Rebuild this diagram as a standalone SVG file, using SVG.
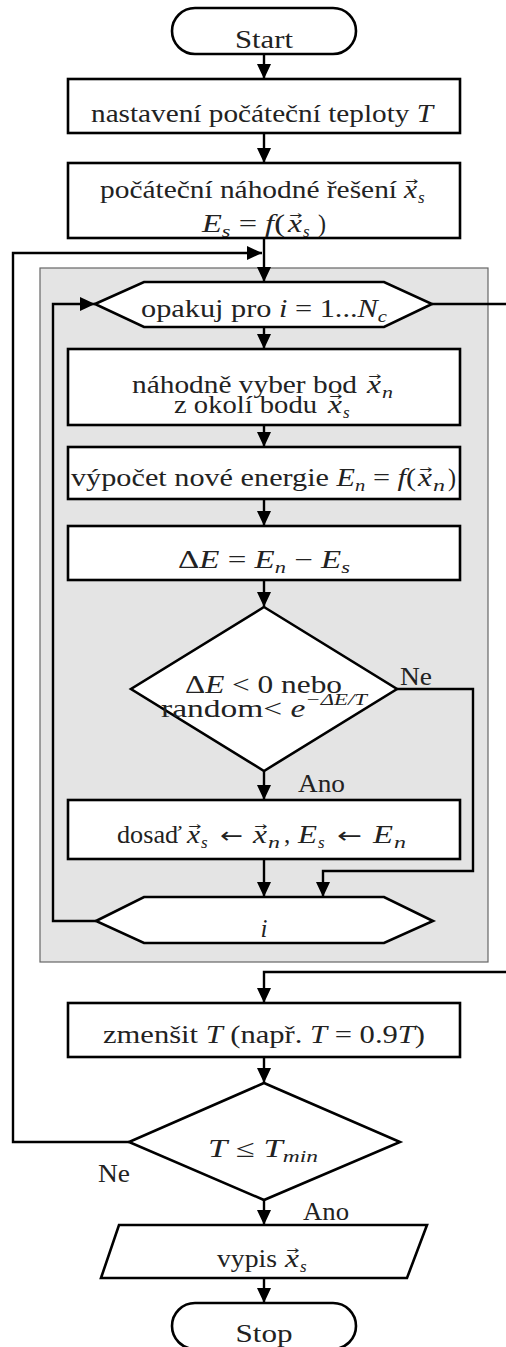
<svg xmlns="http://www.w3.org/2000/svg" width="506" height="1347" viewBox="0 0 506 1347">
<style>
.n{fill:#fff;stroke:#000;stroke-width:2.6}
.c{fill:none;stroke:#000;stroke-width:2.4}
text{font-family:"Liberation Serif","DejaVu Serif",serif;font-size:25px;fill:#222;text-anchor:middle}
.a{text-anchor:start}
.i{font-style:italic}
.s{font-size:17px;font-style:italic}
.l{text-anchor:start}
.va{font-family:"DejaVu Sans",sans-serif;font-size:11px;text-anchor:start}
.la{font-family:"DejaVu Sans",sans-serif;font-size:22px;text-anchor:start}
</style>
<defs>
<marker id="ah" markerUnits="userSpaceOnUse" markerWidth="16" markerHeight="15" refX="15" refY="7" orient="auto">
<path d="M0,0 L15,7 L0,14 z" fill="#000"/>
</marker>
</defs>
<rect id="loopbox" x="40" y="268" width="448" height="694" fill="#e4e4e4" stroke="#666" stroke-width="1.2"/>
<g id="connectors">
<path class="c" d="M264,54 V79" marker-end="url(#ah)"/>
<path class="c" d="M264,133 V163" marker-end="url(#ah)"/>
<path class="c" d="M264,238 V282" marker-end="url(#ah)"/>
<path class="c" d="M129,1142 H13 V253 H262" marker-end="url(#ah)"/>
<path class="c" d="M264,327 V349" marker-end="url(#ah)"/>
<path class="c" d="M264,425 V447" marker-end="url(#ah)"/>
<path class="c" d="M264,499 V526" marker-end="url(#ah)"/>
<path class="c" d="M264,580 V607" marker-end="url(#ah)"/>
<path class="c" d="M264,771 V800" marker-end="url(#ah)"/>
<path class="c" d="M397,689 H473 V871 H323 V897" marker-end="url(#ah)"/>
<path class="c" d="M264,859 V897" marker-end="url(#ah)"/>
<path class="c" d="M96,921 H53 V304 H95" marker-end="url(#ah)"/>
<path class="c" d="M432,304 H506"/>
<path class="c" d="M506,972 H264 V1003" marker-end="url(#ah)"/>
<path class="c" d="M264,1057 V1083" marker-end="url(#ah)"/>
<path class="c" d="M264,1200 V1225" marker-end="url(#ah)"/>
<path class="c" d="M264,1278 V1303" marker-end="url(#ah)"/>
</g>
<g id="start"><rect class="n" x="172" y="8" width="184" height="46" rx="23"/><text x="264" y="48" textLength="58" lengthAdjust="spacingAndGlyphs">Start</text></g>
<g id="init-temp"><rect class="n" x="68" y="79" width="392" height="54"/><text x="262" y="122" textLength="342" lengthAdjust="spacingAndGlyphs">nastavení počáteční teploty <tspan class="i">T</tspan></text></g>
<g id="init-solution"><rect class="n" x="68" y="163" width="392" height="75"/>
<text class="a" x="100" y="198" textLength="297" lengthAdjust="spacingAndGlyphs">počáteční náhodné řešení</text>
<text class="a i" x="404" y="198" textLength="13" lengthAdjust="spacingAndGlyphs">x</text>
<text class="va" x="405" y="185" textLength="13" lengthAdjust="spacingAndGlyphs">→</text>
<text class="a s" x="418" y="203">s</text>
<text class="a" x="202" y="232" textLength="83" lengthAdjust="spacingAndGlyphs"><tspan class="i">E</tspan><tspan class="s" dy="5">s</tspan><tspan dy="-5"> = </tspan><tspan class="i">f</tspan>(</text>
<text class="a i" x="288" y="232" textLength="14" lengthAdjust="spacingAndGlyphs">x</text>
<text class="va" x="289" y="219" textLength="13" lengthAdjust="spacingAndGlyphs">→</text>
<text class="a s" x="303" y="237">s</text>
<text class="a" x="318" y="232" textLength="8" lengthAdjust="spacingAndGlyphs">)</text></g>
<g id="loop-start"><polygon class="n" points="95,304 144,282 384,282 432,304 384,327 144,327"/><text x="264" y="317" textLength="246" lengthAdjust="spacingAndGlyphs">opakuj pro <tspan class="i">i</tspan> = 1...<tspan class="i">N</tspan><tspan class="s" dy="5">c</tspan></text></g>
<g id="pick-neighbor"><rect class="n" x="68" y="349" width="392" height="76"/>
<text class="a" x="132" y="393" textLength="225" lengthAdjust="spacingAndGlyphs">náhodně vyber bod</text>
<text class="a i" x="367" y="393" textLength="14" lengthAdjust="spacingAndGlyphs">x</text>
<text class="va" x="368" y="380" textLength="13" lengthAdjust="spacingAndGlyphs">→</text>
<text class="a s" x="382" y="398" textLength="11" lengthAdjust="spacingAndGlyphs">n</text>
<text class="a" x="174" y="413" textLength="143" lengthAdjust="spacingAndGlyphs">z okolí bodu</text>
<text class="a i" x="328" y="413" textLength="14" lengthAdjust="spacingAndGlyphs">x</text>
<text class="va" x="329" y="400" textLength="13" lengthAdjust="spacingAndGlyphs">→</text>
<text class="a s" x="343" y="418">s</text></g>
<g id="new-energy"><rect class="n" x="68" y="447" width="392" height="52"/>
<text class="a" x="71" y="486" textLength="345" lengthAdjust="spacingAndGlyphs">výpočet nové energie <tspan class="i">E</tspan><tspan class="s" dy="5">n</tspan><tspan dy="-5"> = </tspan><tspan class="i">f</tspan>(</text>
<text class="a i" x="418" y="486" textLength="14" lengthAdjust="spacingAndGlyphs">x</text>
<text class="va" x="419" y="473" textLength="13" lengthAdjust="spacingAndGlyphs">→</text>
<text class="a s" x="433" y="491" textLength="12" lengthAdjust="spacingAndGlyphs">n</text>
<text class="a" x="448" y="486" textLength="8" lengthAdjust="spacingAndGlyphs">)</text></g>
<g id="delta"><rect class="n" x="68" y="526" width="392" height="54"/>
<text x="264" y="568" textLength="172" lengthAdjust="spacingAndGlyphs">Δ<tspan class="i">E</tspan> = <tspan class="i">E</tspan><tspan class="s" dy="5">n</tspan><tspan dy="-5"> − </tspan><tspan class="i">E</tspan><tspan class="s" dy="5">s</tspan></text></g>
<g id="accept"><polygon class="n" points="264,607 397,689 264,771 131,689"/>
<text x="263.5" y="693" textLength="157" lengthAdjust="spacingAndGlyphs">Δ<tspan class="i">E</tspan> &lt; 0 nebo</text>
<text x="264" y="717" textLength="206" lengthAdjust="spacingAndGlyphs">random&lt; <tspan class="i">e</tspan><tspan class="s" dy="-12">−Δ<tspan class="s">E</tspan>/<tspan class="s">T</tspan></tspan></text>
<text class="l" x="400" y="685" textLength="32" lengthAdjust="spacingAndGlyphs">Ne</text>
<text class="l" x="298" y="792" textLength="47" lengthAdjust="spacingAndGlyphs">Ano</text></g>
<g id="assign"><rect class="n" x="68" y="800" width="392" height="59"/>
<text class="a" x="117" y="843" textLength="65" lengthAdjust="spacingAndGlyphs">dosaď</text>
<text class="a i" x="187" y="843" textLength="13" lengthAdjust="spacingAndGlyphs">x</text>
<text class="va" x="188" y="830" textLength="13" lengthAdjust="spacingAndGlyphs">→</text>
<text class="a s" x="201" y="848">s</text>
<text class="la" x="220" y="843" textLength="23" lengthAdjust="spacingAndGlyphs">←</text>
<text class="a i" x="253" y="843" textLength="14" lengthAdjust="spacingAndGlyphs">x</text>
<text class="va" x="254" y="830" textLength="13" lengthAdjust="spacingAndGlyphs">→</text>
<text class="a s" x="268" y="848" textLength="12" lengthAdjust="spacingAndGlyphs">n</text>
<text class="a" x="284" y="843">,</text>
<text class="a i" x="298" y="843" textLength="19" lengthAdjust="spacingAndGlyphs">E</text>
<text class="a s" x="318" y="848">s</text>
<text class="la" x="337" y="843" textLength="25" lengthAdjust="spacingAndGlyphs">←</text>
<text class="a i" x="373" y="843" textLength="20" lengthAdjust="spacingAndGlyphs">E</text>
<text class="a s" x="394" y="848" textLength="12" lengthAdjust="spacingAndGlyphs">n</text></g>
<g id="loop-end"><polygon class="n" points="96,921 144,897 384,897 433,921 384,943 144,943"/><text class="i" x="264" y="937">i</text></g>
<g id="cool"><rect class="n" x="68" y="1003" width="392" height="54"/>
<text x="264" y="1043" textLength="322" lengthAdjust="spacingAndGlyphs">zmenšit <tspan class="i">T</tspan> (např. <tspan class="i">T</tspan> = 0.9<tspan class="i">T</tspan>)</text></g>
<g id="stop-check"><polygon class="n" points="264,1083 400,1142 264,1200 129,1142"/>
<text x="263" y="1157" textLength="110" lengthAdjust="spacingAndGlyphs"><tspan class="i">T</tspan> ≤ <tspan class="i">T</tspan><tspan class="s" dy="5">min</tspan></text>
<text class="l" x="98" y="1182" textLength="32" lengthAdjust="spacingAndGlyphs">Ne</text>
<text class="l" x="303" y="1220" textLength="46" lengthAdjust="spacingAndGlyphs">Ano</text></g>
<g id="output"><polygon class="n" points="119,1225 427,1225 407,1278 101,1278"/>
<text class="a" x="217" y="1267" textLength="60" lengthAdjust="spacingAndGlyphs">vypis</text>
<text class="a i" x="285" y="1267" textLength="14" lengthAdjust="spacingAndGlyphs">x</text>
<text class="va" x="286" y="1254" textLength="13" lengthAdjust="spacingAndGlyphs">→</text>
<text class="a s" x="300" y="1272">s</text></g>
<g id="stop"><rect class="n" x="172" y="1303" width="184" height="46" rx="23"/><text x="264" y="1342" textLength="57" lengthAdjust="spacingAndGlyphs">Stop</text></g>
</svg>
